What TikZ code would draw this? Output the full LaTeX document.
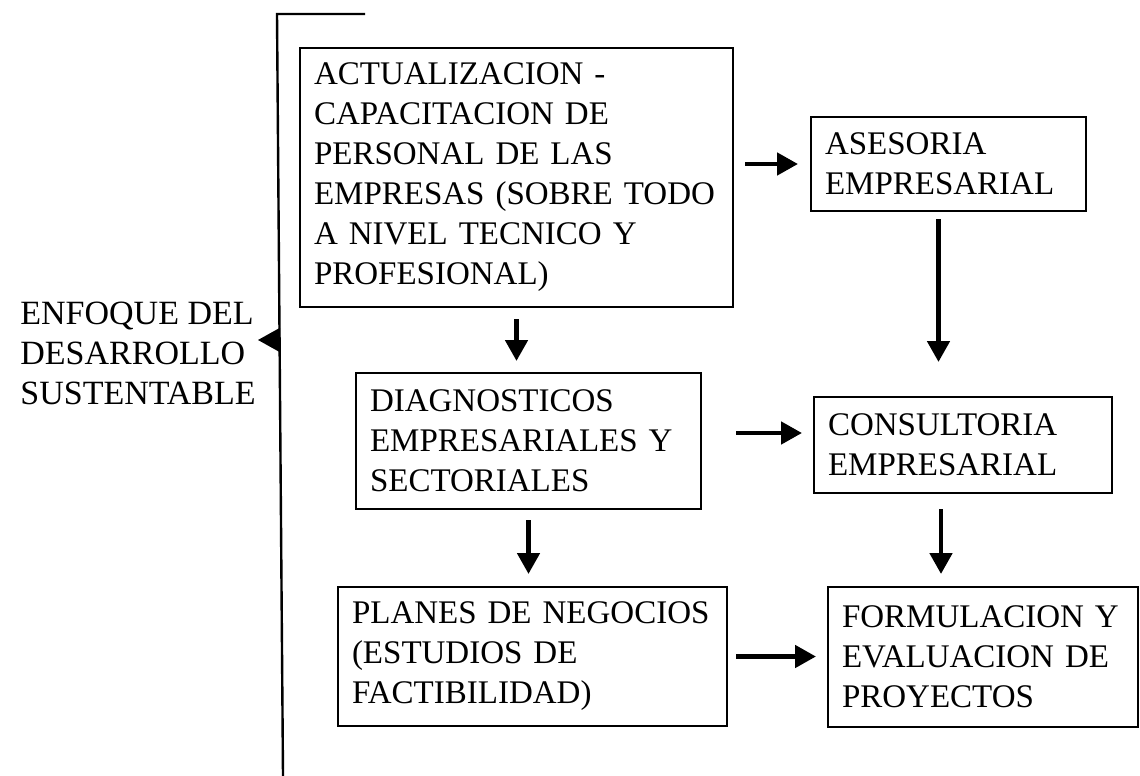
\documentclass[tikz,border=0pt]{standalone}
\usepackage{fontspec}
\setmainfont{Liberation Serif}
\usetikzlibrary{arrows.meta}

\tikzstyle{bloque} = [rectangle, draw=black, line width=1pt, align=left, inner xsep=7pt, inner ysep=0pt, font=\fontsize{16.5}{20}\selectfont]
\tikzstyle{flecha} = [line width=2.4pt, -{Triangle[length=10.5pt,width=11pt]}]

\begin{document}
\begin{tikzpicture}[x=0.5pt, y=-0.5pt]
	\useasboundingbox (0,0) rectangle (1140,776);

	\node (bloque1) [bloque, text width=202.5pt, minimum height=129.5pt] at (516.5,177.5) {ACTUALIZACION -\\CAPACITACION DE\\PERSONAL DE LAS\\EMPRESAS (SOBRE TODO\\A NIVEL TECNICO Y\\PROFESIONAL)};
	\node (bloque2) [bloque, text width=123.5pt, minimum height=47pt] at (948.5,164) {ASESORIA\\EMPRESARIAL};
	\node (bloque3) [bloque, text width=158.5pt, minimum height=68pt] at (528.5,441) {DIAGNOSTICOS\\EMPRESARIALES Y\\SECTORIALES};
	\node (bloque4) [bloque, text width=135pt, minimum height=48pt] at (963,445) {CONSULTORIA\\EMPRESARIAL};
	\node (bloque5) [bloque, text width=180.5pt, minimum height=69.5pt] at (532.5,656.5) {PLANES DE NEGOCIOS\\(ESTUDIOS DE\\FACTIBILIDAD)};
	\node (bloque6) [bloque, text width=141pt, minimum height=70pt] at (983,657) {FORMULACION Y\\EVALUACION DE\\PROYECTOS};
	\node (enfoque) [anchor=west, align=left, inner sep=0pt, font=\fontsize{17}{20}\selectfont] at (20,353) {ENFOQUE DEL\\DESARROLLO\\SUSTENTABLE};

	% llave vertical
	\coordinate (llave1) at (365,14);
	\coordinate (llave2) at (277,14);
	\coordinate (llave3) at (283,776);
	\draw [line width=1.2pt] (llave1) -- (llave2) -- (llave3);
	\coordinate (union) at (279.6,340);
	\coordinate (punta) at (258,340);
	\draw [line width=1pt, -{Triangle[length=11pt,width=12pt]}] (union) -- (punta);

	\coordinate (f3) at ([xshift=-5pt]bloque2.south);
	\coordinate (f4) at ([yshift=6pt]bloque4.west);
	\coordinate (f6) at ([xshift=-11pt]bloque4.south);

	\draw [flecha, shorten <=5.5pt, shorten >=6pt] (bloque1.east |- bloque2.west) -- (bloque2.west);
	\draw [flecha, shorten <=5.5pt, shorten >=5.5pt] (bloque1.south) -- (bloque1.south |- bloque3.north);
	\draw [flecha, shorten <=3.5pt, shorten >=17pt] (f3) -- (f3 |- bloque4.north);
	\draw [flecha, shorten <=17pt, shorten >=5.5pt] (bloque3.east |- f4) -- (f4);
	\draw [flecha, shorten <=5pt, shorten >=6pt] (bloque3.south) -- (bloque3.south |- bloque5.north);
	\draw [flecha, shorten <=7.5pt, shorten >=6pt] (f6) -- (f6 |- bloque6.north);
	\draw [flecha, shorten <=4pt, shorten >=5.5pt] (bloque5.east) -- (bloque5.east -| bloque6.west);
\end{tikzpicture}
\end{document}
